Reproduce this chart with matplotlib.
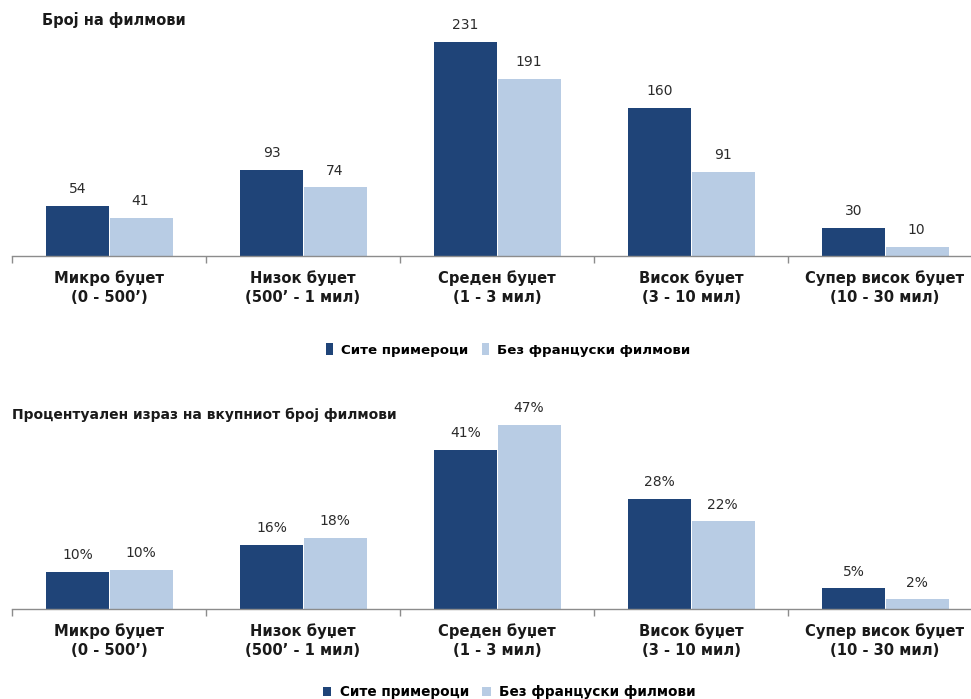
import matplotlib
matplotlib.use("Agg")
import matplotlib.pyplot as plt
from matplotlib.patches import Patch
import numpy as np

categories = ["Микро буџет\n(0 - 500\u2019)", "Низок буџет\n(500\u2019 - 1 мил)",
              "Среден буџет\n(1 - 3 мил)", "Висок буџет\n(3 - 10 мил)",
              "Супер висок буџет\n(10 - 30 мил)"]
series_names = ["Сите примероци", "Без француски филмови"]

count_all = [54, 93, 231, 160, 30]
count_no_fr = [41, 74, 191, 91, 10]

share_all = [9.51, 16.37, 40.67, 28.17, 5.28]
share_no_fr = [10.07, 18.18, 46.93, 22.36, 2.46]

title_counts = "Број на филмови"
title_share = "Процентуален израз на вкупниот број филмови"

DARK = "#1f4478"
LIGHT = "#b8cce4"
TEXT = "#1a1a1a"
VALUE = "#2b2b2b"
AXIS = "#8c8c8c"

W, H = 971, 699
fig = plt.figure(figsize=(W / 100, H / 100), dpi=100)
fig.patch.set_facecolor("white")


def px_axes(left, top, width, height):
    return fig.add_axes([left / W, 1 - (top + height) / H, width / W, height / H])


def draw_panel(ax, a, b, ymax, fmt):
    x = np.arange(len(categories))
    bw = 0.325
    ax.bar(x - bw / 2, a, bw, color=DARK, zorder=2)
    ax.bar(x + bw / 2 + 0.005, b, bw, color=LIGHT, zorder=2)
    for xi, v in zip(x, a):
        ax.annotate(fmt(v), (xi - bw / 2, v), xytext=(0, 7), textcoords="offset points",
                    ha="center", va="bottom", fontsize=10, color=VALUE)
    for xi, v in zip(x, b):
        ax.annotate(fmt(v), (xi + bw / 2, v), xytext=(0, 7), textcoords="offset points",
                    ha="center", va="bottom", fontsize=10, color=VALUE)
    ax.set_xlim(-0.5, len(categories) - 0.5)
    ax.set_ylim(0, ymax)
    for s in ["top", "right", "left"]:
        ax.spines[s].set_visible(False)
    ax.spines["bottom"].set_color(AXIS)
    ax.spines["bottom"].set_linewidth(1.0)
    ax.set_yticks([])
    ax.set_xticks(np.arange(-0.5, len(categories), 1.0))
    ax.set_xticklabels([])
    ax.tick_params(axis="x", direction="out", length=5, color=AXIS, width=1)
    for xi, lab in zip(x, categories):
        ax.annotate(lab, (xi, 0), xytext=(0, -10), textcoords="offset points",
                    ha="center", va="top", fontsize=10.6, fontweight="bold",
                    color=TEXT, linespacing=1.33, annotation_clip=False)


# Counts panel
ax1 = px_axes(12, 24.4, 970, 231.6)
draw_panel(ax1, count_all, count_no_fr, 250, lambda v: f"{v:d}")
fig.text(42 / W, 1 - 20 / H, title_counts, fontsize=10.5, fontweight="bold",
         color=TEXT, va="center", ha="left")

# Shares panel
ax2 = px_axes(12, 413, 970, 196)
draw_panel(ax2, share_all, share_no_fr, 50, lambda v: f"{v:.0f}%")
fig.text(12 / W, 1 - 415 / H, title_share, fontsize=10, fontweight="bold",
         color=TEXT, va="center", ha="left")

handles = [Patch(facecolor=DARK), Patch(facecolor=LIGHT)]
fig.legend(handles, series_names, loc="center left",
           bbox_to_anchor=(314 / W, 1 - 350 / H), ncol=2, frameon=False,
           handlelength=0.55, handleheight=0.9, handletextpad=0.6, columnspacing=1.0,
           prop={"family": ["Liberation Sans Narrow", "DejaVu Sans"], "size": 9.6, "weight": "bold"})
fig.legend(handles, series_names, loc="center left",
           bbox_to_anchor=(311 / W, 1 - 692 / H), ncol=2, frameon=False,
           handlelength=0.6, handleheight=0.6, handletextpad=0.6, columnspacing=1.0,
           prop={"size": 9.8, "weight": "bold"})

fig.savefig("out.png", dpi=100, facecolor="white")
